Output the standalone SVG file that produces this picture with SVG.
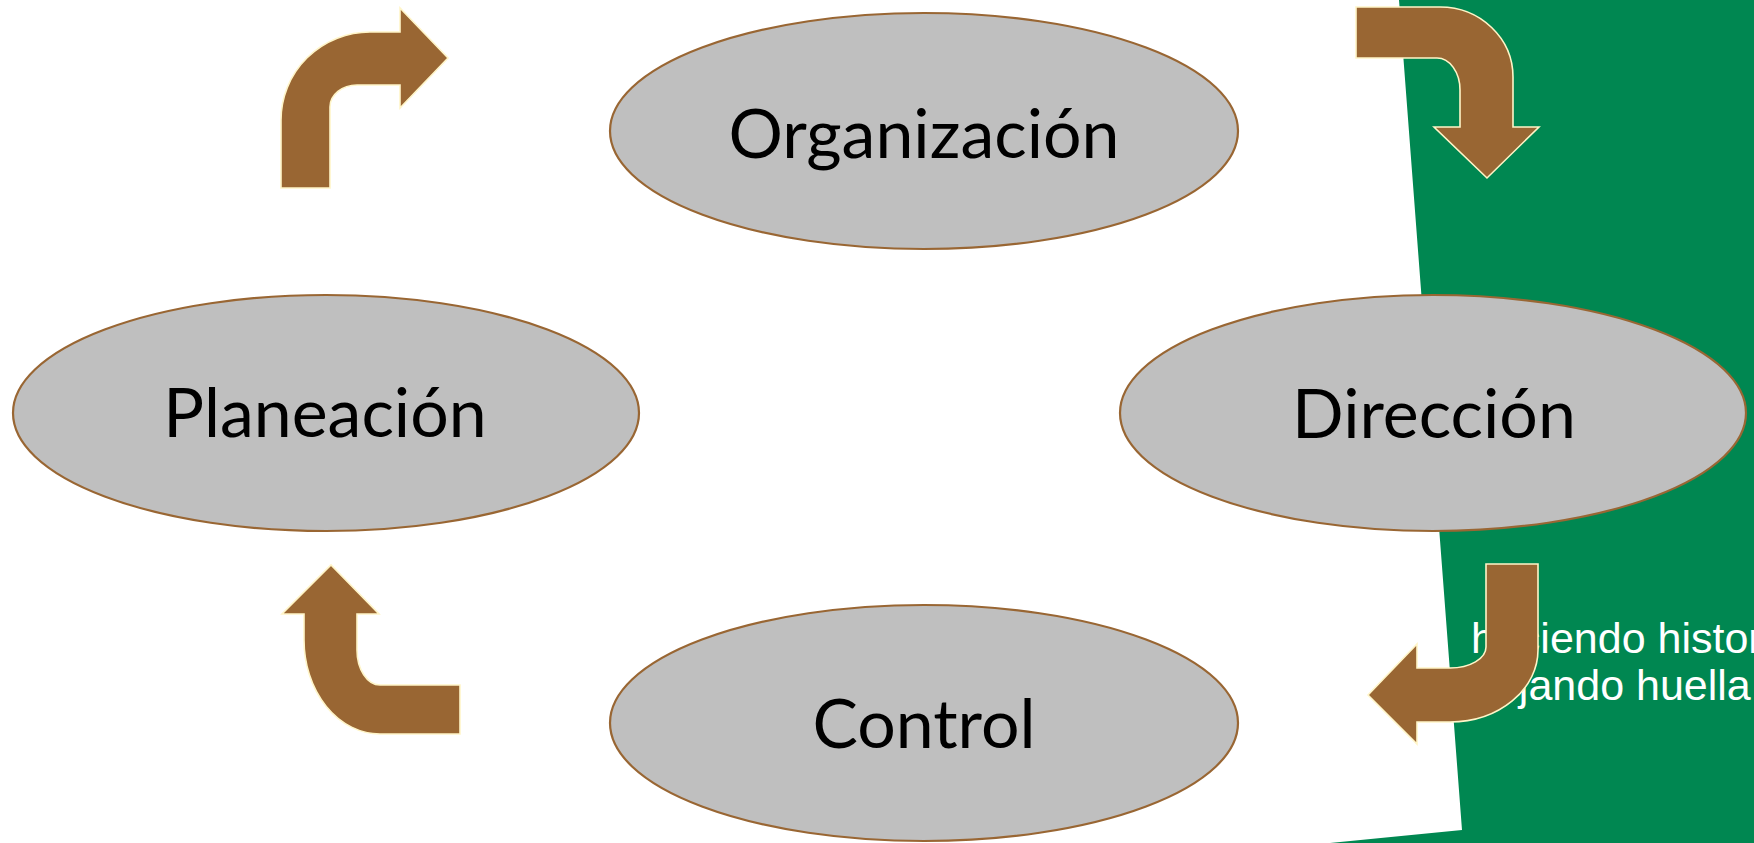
<svg xmlns="http://www.w3.org/2000/svg" width="1754" height="843" viewBox="0 0 1754 843">
<style>
.node{fill:#BFBFBF;stroke:#996633;stroke-width:2.2}
.lbl{font-family:Lato,"Open Sans","Liberation Sans",sans-serif;font-size:68px;fill:#000;text-anchor:middle}
.arrow{fill:#996633;stroke:#FFF5C8;stroke-width:1.6;stroke-linejoin:miter}
.bgtext{font-family:"Liberation Sans",Arial,sans-serif;font-size:43px;fill:#FFFFFF}
</style>
<rect x="0" y="0" width="1754" height="843" fill="#FFFFFF"/>
<g id="background">
<polygon points="1399,0 1754,0 1754,843 1330,843 1462,830" fill="#008751"/>
<text class="bgtext" x="1471" y="653">haciendo historia</text>
<text class="bgtext" x="1471" y="700">dejando huella</text>
</g>
<g id="node-organizacion">
<ellipse class="node" cx="924" cy="131" rx="314" ry="118"/>
<text class="lbl" x="924" y="158">Organización</text>
</g>
<g id="node-planeacion">
<ellipse class="node" cx="326" cy="413" rx="313" ry="118"/>
<text class="lbl" x="325" y="437">Planeación</text>
</g>
<g id="node-direccion">
<ellipse class="node" cx="1433" cy="413" rx="313" ry="118"/>
<text class="lbl" x="1434" y="438">Dirección</text>
</g>
<g id="node-control">
<ellipse class="node" cx="924" cy="723" rx="314" ry="118"/>
<text class="lbl" x="924" y="748">Control</text>
</g>
<g id="connectors">
<path class="arrow" d="M281,188 L281,120 A89,88 0 0 1 370,32 L400,32 L400,8 L448,58 L400,108 L400,85 L357,85 A27,22 0 0 0 330,107 L330,188 Z"/>
<path class="arrow" d="M1356,7 L1440,7 A73,70 0 0 1 1513,77 L1513,127 L1539,127 L1487,178 L1434,127 L1460,127 L1460,90 A23,32 0 0 0 1437,58 L1356,58 Z"/>
<path class="arrow" d="M1486,564 L1538,564 L1538,650 A88,72 0 0 1 1450,722 L1417,722 L1417,744 L1368,695 L1417,644 L1417,668 L1450,668 A36,21 0 0 0 1486,647 Z"/>
<path class="arrow" d="M460,685 L460,734 L380,734 A76,94 0 0 1 304,640 L304,614 L282,614 L331,565 L379,614 L357,614 L357,650 A23,35 0 0 0 380,685 Z"/>
</g>
</svg>
